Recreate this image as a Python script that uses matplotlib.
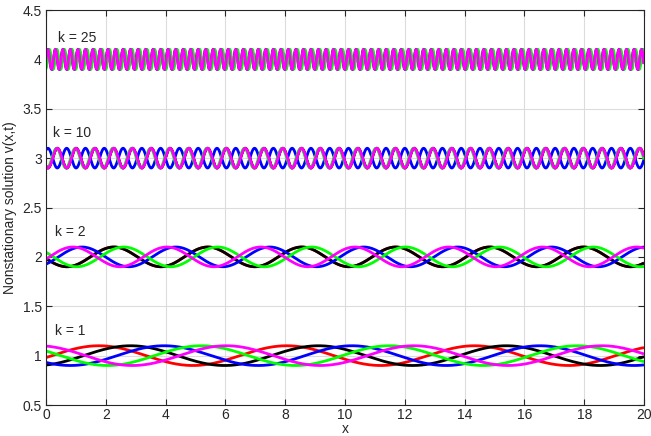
import numpy as np
import matplotlib
matplotlib.use("Agg")
import matplotlib.pyplot as plt

plt.rcParams['font.family'] = ['Liberation Sans', 'DejaVu Sans']

# ---- data ----
k_values = [1, 2, 10, 25]          # wavenumbers; each group is centred at v = k-level
levels = [1.0, 2.0, 3.0, 4.0]      # mean level of each group
amplitude = 0.1                    # oscillation amplitude
colors = ['#ff0000', '#000000', '#0000ff', '#00ff00', '#ff00ff']
# phase shifts theta in v = level + A*sin(k*x - theta), one per colour, per k
phases = {
    1:  [0.20, 1.26, 2.38, 3.63, 4.46],
    2:  [2.97, 2.97, 0.83, 3.63, 0.23],
    10: [2.21, 2.21, 5.35, 1.96, 2.21],
    25: [0.60, 0.00, 0.80, 1.30, 0.00],
}
labels = ['k = 1', 'k = 2', 'k = 10', 'k = 25']
label_x = [0.3, 0.3, 0.25, 0.4]
label_y = [1.25, 2.25, 3.25, 4.22]
x_range = (0, 20)
y_range = (0.5, 4.5)
x_ticks = list(range(0, 21, 2))
y_ticks = [0.5, 1, 1.5, 2, 2.5, 3, 3.5, 4, 4.5]
y_ticklabels = ['0.5', '1', '1.5', '2', '2.5', '3', '3.5', '4', '4.5']

x = np.linspace(x_range[0], x_range[1], 4000)

fig = plt.figure(figsize=(6.51, 4.36), dpi=100)
ax_bottom_px = 405
ax = fig.add_axes([46/651, 1 - ax_bottom_px/436, (644-46)/651, (ax_bottom_px-10)/436])

for ci, c in enumerate(colors):
    for k, lev in zip(k_values, levels):
        th = phases[k][ci]
        ax.plot(x, lev + amplitude*np.sin(k*x - th), color=c, lw=2.0,
                solid_capstyle='butt')

for lab, lx, ly in zip(labels, label_x, label_y):
    ax.text(lx, ly, lab, fontsize=10, va='center', ha='left', color='#262626')

ax.set_xlim(*x_range)
ax.set_ylim(*y_range)
ax.set_xticks(x_ticks)
ax.set_yticks(y_ticks)
ax.set_yticklabels(y_ticklabels)
ax.grid(True, color='#dcdcdc', lw=0.8)
ax.set_axisbelow(True)
ax.tick_params(direction='in', top=True, right=True, labelsize=10,
               colors='#262626', length=4, width=0.8, pad=3)
ax.tick_params(axis='x', pad=2)
for s in ax.spines.values():
    s.set_color('#262626')
    s.set_linewidth(0.8)
ax.set_xlabel('x', fontsize=10, color='#262626', va='bottom')
ax.xaxis.set_label_coords(0.5, -(435.5 - ax_bottom_px) / (ax_bottom_px - 10))
ax.set_ylabel('Nonstationary solution v(x,t)', fontsize=10, color='#262626', labelpad=4)

fig.savefig('out.png', dpi=100)
